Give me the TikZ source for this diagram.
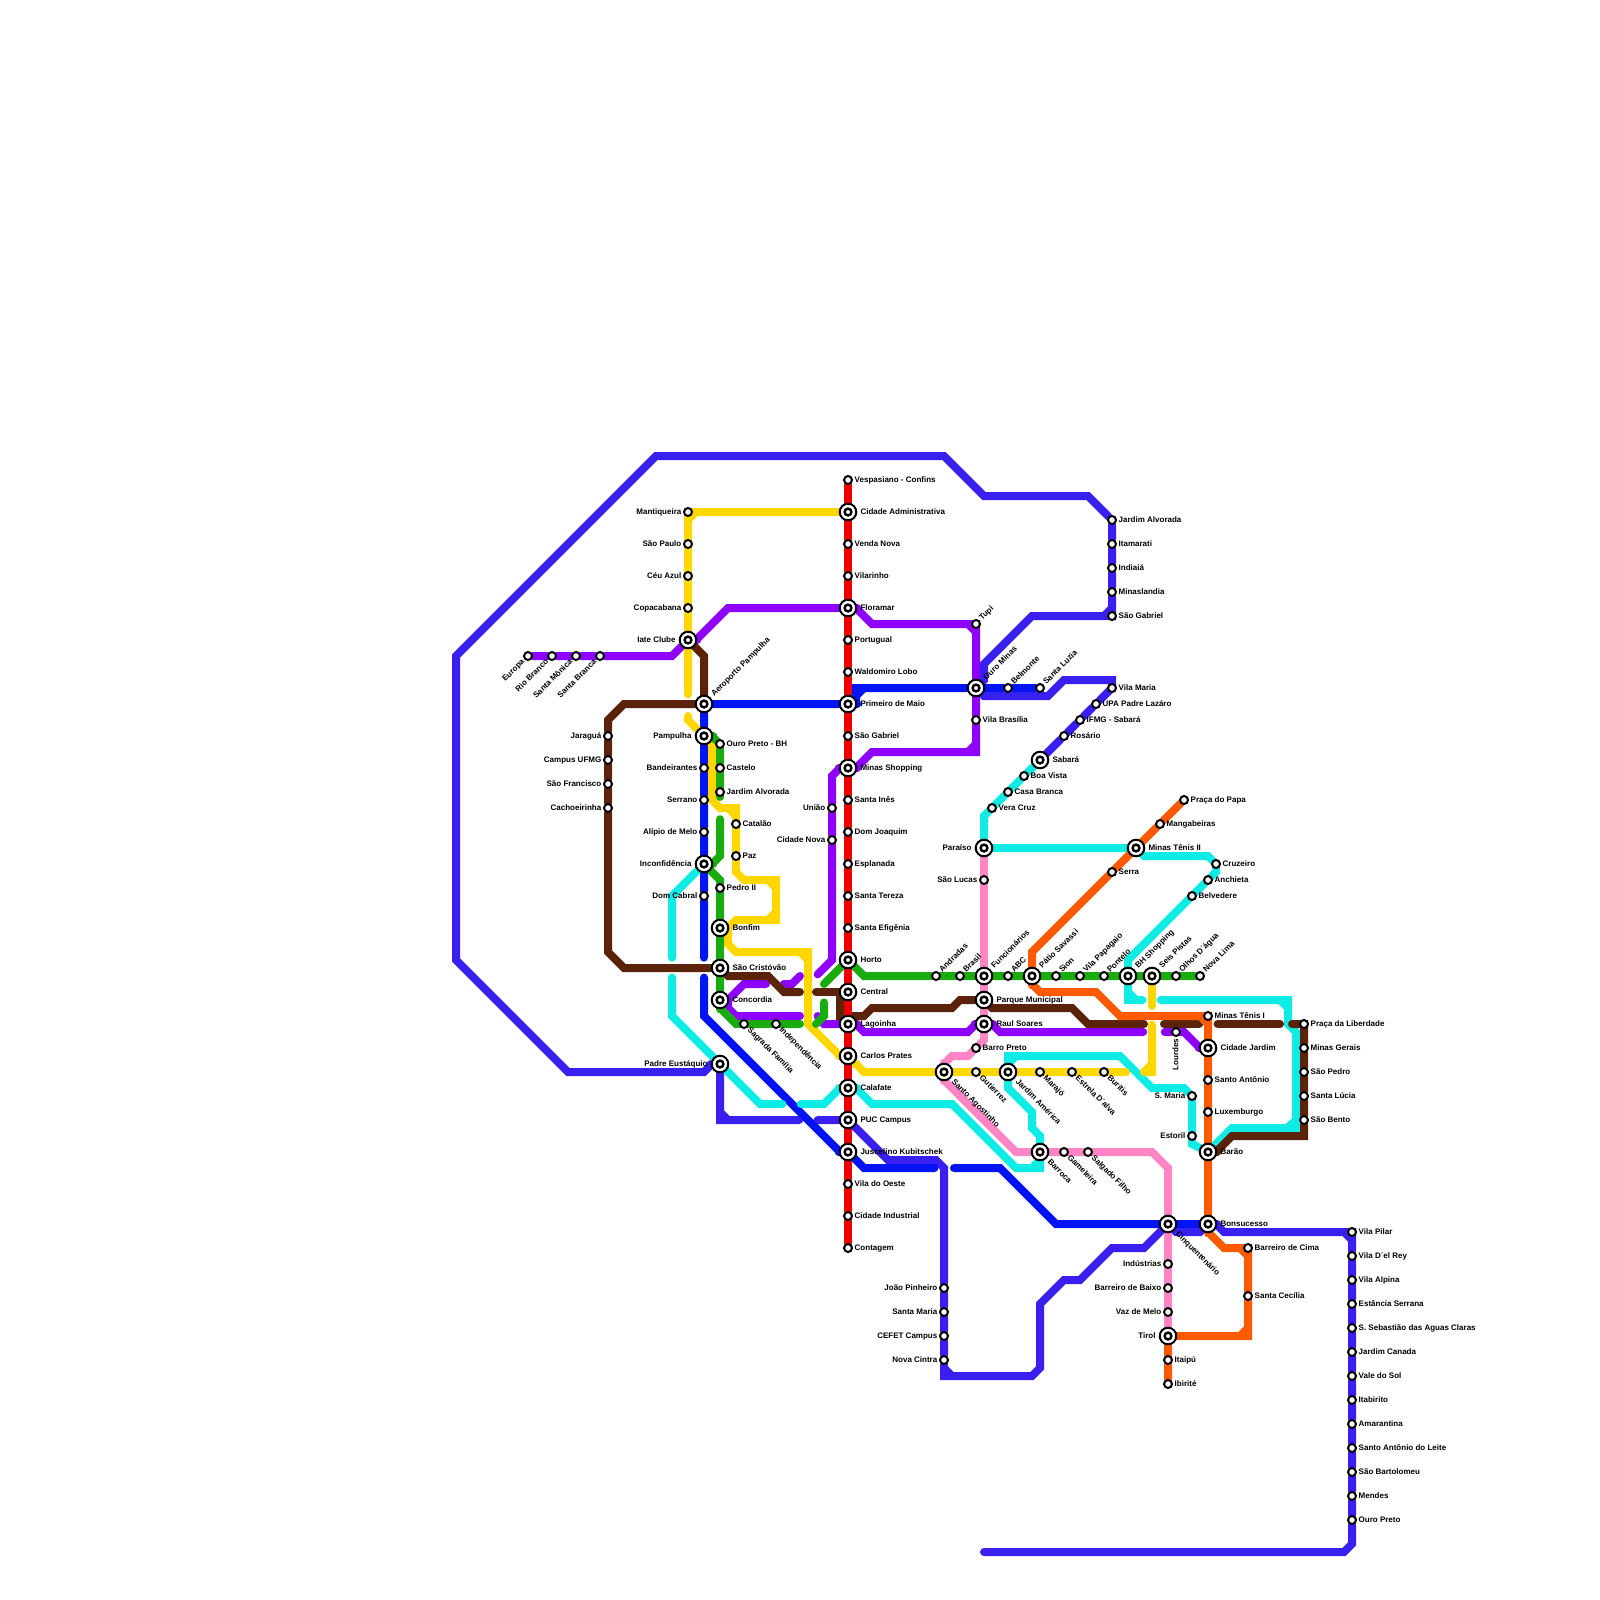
\documentclass[tikz,border=0pt]{standalone}
\usepackage{fontspec}
\setmainfont{Liberation Sans}
\pgfdeclarelayer{lines}
\pgfsetlayers{lines,main}
\definecolor{cred}{RGB}{240,0,0}
\definecolor{cindigo}{RGB}{58,32,240}
\definecolor{cblue}{RGB}{0,20,245}
\definecolor{cpurple}{RGB}{142,0,255}
\definecolor{cyellow}{RGB}{255,214,0}
\definecolor{cbrown}{RGB}{90,35,10}
\definecolor{cgreen}{RGB}{25,172,15}
\definecolor{ccyan}{RGB}{15,236,230}
\definecolor{cpink}{RGB}{255,133,196}
\definecolor{corange}{RGB}{255,90,0}
\tikzset{
  metro/.style={line width=8pt,line cap=round},
  tag/.style={font=\bfseries\fontsize{8}{8}\selectfont,inner ysep=0pt,inner xsep=1.5pt,text height=6pt,text depth=1.5pt},
  taghub/.style={tag,inner xsep=3pt},
  stn/.style={circle,draw=black,fill=white,line width=2pt,minimum size=8pt,inner sep=0pt},
  hub/.style={circle,draw=black,fill=white,line width=2pt,minimum size=16.6pt,inner sep=0pt,
    path picture={\draw[black,line width=2.4pt] (path picture bounding box.center) circle (3.4pt);}},
  lblR/.style={label={[tag,anchor=west]0:#1}},
  lblL/.style={label={[tag,anchor=east]180:#1}},
  lblUp/.style={label={[tag,rotate=45,anchor=west]45:#1}},
  lblDn/.style={label={[tag,rotate=-45,anchor=west]-45:#1}},
  lblDL/.style={label={[tag,rotate=45,anchor=east]225:#1}},
  lblV/.style={label={[tag,rotate=90,anchor=east]270:#1}},
  hubR/.style={label={[taghub,anchor=west]0:#1}},
  hubL/.style={label={[taghub,anchor=east]180:#1}},
  hubUp/.style={label={[taghub,rotate=45,anchor=west]45:#1}},
  hubDn/.style={label={[taghub,rotate=-45,anchor=west]-45:#1}}
}
\begin{document}
\begin{tikzpicture}[x=8pt,y=-8pt]
  \useasboundingbox (0,0) rectangle (200,200);
  \node[stn,lblR=Vespasiano - Confins] (vespasiano) at (106,60) {};
  \node[hub,hubR=Cidade Administrativa] (cidadeadm) at (106,64) {};
  \node[stn,lblR=Venda Nova] (vendanova) at (106,68) {};
  \node[stn,lblR=Vilarinho] (vilarinho) at (106,72) {};
  \node[hub,hubR=Floramar] (floramar) at (106,76) {};
  \node[stn,lblR=Portugual] (portugual) at (106,80) {};
  \node[stn,lblR=Waldomiro Lobo] (waldomiro) at (106,84) {};
  \node[hub,hubR=Primeiro de Maio] (primeiromaio) at (106,88) {};
  \node[stn,lblR=São Gabriel] (saogabrielb) at (106,92) {};
  \node[hub,hubR=Minas Shopping] (minasshopping) at (106,96) {};
  \node[stn,lblR=Santa Inês] (santaines) at (106,100) {};
  \node[stn,lblR=Dom Joaquim] (domjoaquim) at (106,104) {};
  \node[stn,lblR=Esplanada] (esplanada) at (106,108) {};
  \node[stn,lblR=Santa Tereza] (santatereza) at (106,112) {};
  \node[stn,lblR=Santa Efigênia] (santaefigenia) at (106,116) {};
  \node[hub,hubR=Horto] (horto) at (106,120) {};
  \node[hub,hubR=Central] (central) at (106,124) {};
  \node[hub,hubR=Lagoinha] (lagoinha) at (106,128) {};
  \node[hub,hubR=Carlos Prates] (carlosprates) at (106,132) {};
  \node[hub,hubR=Calafate] (calafate) at (106,136) {};
  \node[hub,hubR=PUC Campus] (puccampus) at (106,140) {};
  \node[hub,hubR=Juscelino Kubitschek] (juscelino) at (106,144) {};
  \node[stn,lblR=Vila do Oeste] (vilaoeste) at (106,148) {};
  \node[stn,lblR=Cidade Industrial] (cidadeind) at (106,152) {};
  \node[stn,lblR=Contagem] (contagem) at (106,156) {};

  \node[stn,lblL=Mantiqueira] (mantiqueira) at (86,64) {};
  \node[stn,lblL=São Paulo] (saopaulo) at (86,68) {};
  \node[stn,lblL=Céu Azul] (ceuazul) at (86,72) {};
  \node[stn,lblL=Copacabana] (copacabana) at (86,76) {};
  \node[hub,hubL=Iate Clube] (iateclube) at (86,80) {};
  \node[stn,lblDL=Europa] (europa) at (66,82) {};
  \node[stn,lblDL=Rio Branco] (riobranco) at (69,82) {};
  \node[stn,lblDL=Santa Mônica] (santamonica) at (72,82) {};
  \node[stn,lblDL=Santa Branca] (santabranca) at (75,82) {};
  \node[hub,hubUp=Aeroporto Pampulha] (aeroporto) at (88,88) {};
  \node[hub,hubL=Pampulha] (pampulha) at (88,92) {};
  \node[stn,lblL=Bandeirantes] (bandeirantes) at (88,96) {};
  \node[stn,lblL=Serrano] (serrano) at (88,100) {};
  \node[stn,lblL=Alípio de Melo] (alipio) at (88,104) {};
  \node[hub,hubL=Inconfidência] (inconfidencia) at (88,108) {};
  \node[stn,lblL=Dom Cabral] (domcabral) at (88,112) {};
  \node[stn,lblR=Ouro Preto - BH] (ouropretobh) at (90,93) {};
  \node[stn,lblR=Castelo] (castelo) at (90,96) {};
  \node[stn,lblR=Jardim Alvorada] (jardimalvoradab) at (90,99) {};
  \node[stn,lblR=Catalão] (catalao) at (92,103) {};
  \node[stn,lblR=Paz] (paz) at (92,107) {};
  \node[stn,lblL=Jaraguá] (jaragua) at (76,92) {};
  \node[stn,lblL=Campus UFMG] (campusufmg) at (76,95) {};
  \node[stn,lblL=São Francisco] (saofrancisco) at (76,98) {};
  \node[stn,lblL=Cachoeirinha] (cachoeirinha) at (76,101) {};
  \node[stn,lblL=União] (uniao) at (104,101) {};
  \node[stn,lblL=Cidade Nova] (cidadenova) at (104,105) {};
  \node[stn,lblR=Pedro II] (pedroii) at (90,111) {};
  \node[hub,hubR=Bonfim] (bonfim) at (90,116) {};
  \node[hub,hubR=São Cristóvão] (saocristovao) at (90,121) {};
  \node[hub,hubR=Concordia] (concordia) at (90,125) {};
  \node[stn,lblDn=Sagrada Família] (sagrada) at (93,128) {};
  \node[stn,lblDn=Independência] (independencia) at (97,128) {};
  \node[hub,hubL=Padre Eustáquio] (padre) at (90,133) {};

  \node[stn,lblUp=Tupi] (tupi) at (122,78) {};
  \node[hub,hubUp=Ouro Minas] (ourominas) at (122,86) {};
  \node[stn,lblUp=Belmonte] (belmonte) at (126,86) {};
  \node[stn,lblUp=Santa Luzia] (santaluzia) at (130,86) {};
  \node[stn,lblR=Vila Brasília] (vilabrasilia) at (122,90) {};
  \node[stn,lblR=Jardim Alvorada] (jardimalvorada) at (139,65) {};
  \node[stn,lblR=Itamarati] (itamarati) at (139,68) {};
  \node[stn,lblR=Indiaiá] (indiaia) at (139,71) {};
  \node[stn,lblR=Minaslandia] (minaslandia) at (139,74) {};
  \node[stn,lblR=São Gabriel] (saogabriel) at (139,77) {};
  \node[stn,lblR=Vila Maria] (vilamaria) at (139,86) {};
  \node[stn,lblR=UPA Padre Lazáro] (upa) at (137,88) {};
  \node[stn,lblR=IFMG - Sabará] (ifmg) at (135,90) {};
  \node[stn,lblR=Rosário] (rosario) at (133,92) {};
  \node[hub,hubR=Sabará] (sabara) at (130,95) {};
  \node[stn,lblR=Boa Vista] (boavista) at (128,97) {};
  \node[stn,lblR=Casa Branca] (casabranca) at (126,99) {};
  \node[stn,lblR=Vera Cruz] (veracruz) at (124,101) {};
  \node[hub,hubL=Paraíso] (paraiso) at (123,106) {};
  \node[stn,lblL=São Lucas] (saolucas) at (123,110) {};
  \node[hub,hubR=Minas Tênis II] (minastenisii) at (142,106) {};
  \node[stn,lblR=Praça do Papa] (pracapapa) at (148,100) {};
  \node[stn,lblR=Mangabeiras] (mangabeiras) at (145,103) {};
  \node[stn,lblR=Serra] (serra) at (139,109) {};
  \node[stn,lblR=Cruzeiro] (cruzeiro) at (152,108) {};
  \node[stn,lblR=Anchieta] (anchieta) at (151,110) {};
  \node[stn,lblR=Belvedere] (belvedere) at (149,112) {};

  \node[stn,lblUp=Andradas] (andradas) at (117,122) {};
  \node[stn,lblUp=Brasil] (brasil) at (120,122) {};
  \node[hub,hubUp=Funcionários] (funcionarios) at (123,122) {};
  \node[stn,lblUp=ABC] (abc) at (126,122) {};
  \node[hub,hubUp=Pátio Savassi] (patiosavassi) at (129,122) {};
  \node[stn,lblUp=Sion] (sion) at (132,122) {};
  \node[stn,lblUp=Vila Papagaio] (vilapapagaio) at (135,122) {};
  \node[stn,lblUp=Pontelo] (pontelo) at (138,122) {};
  \node[hub,hubUp=BH Shopping] (bhshopping) at (141,122) {};
  \node[hub,hubUp=Seis Pistas] (seispistas) at (144,122) {};
  \node[stn,lblUp=Olhos D´água] (olhosdagua) at (147,122) {};
  \node[stn,lblUp=Nova Lima] (novalima) at (150,122) {};
  \node[hub,hubR=Parque Municipal] (parquemunicipal) at (123,125) {};
  \node[hub,hubR=Raul Soares] (raulsoares) at (123,128) {};
  \node[stn,lblR=Barro Preto] (barropreto) at (122,131) {};
  \node[stn,lblDn=Gutierrez] (gutierrez) at (122,134) {};
  \node[hub,hubDn=Santo Agostinho] (santoagostinho) at (118,134) {};
  \node[hub,hubDn=Jardim América] (jardimamerica) at (126,134) {};
  \node[stn,lblDn=Marajó] (marajo) at (130,134) {};
  \node[stn,lblDn=Estrela D´alva] (estreladalva) at (134,134) {};
  \node[stn,lblDn=Buritis] (buritis) at (138,134) {};
  \node[hub,hubDn=Barroca] (barroca) at (130,144) {};
  \node[stn,lblDn=Gameleira] (gameleira) at (133,144) {};
  \node[stn,lblDn=Salgado Filho] (salgadofilho) at (136,144) {};

  \node[stn,lblR=Minas Tênis I] (minastenisi) at (151,127) {};
  \node[hub,hubR=Cidade Jardim] (cidadejardim) at (151,131) {};
  \node[stn,lblR=Santo Antônio] (santoantonio) at (151,135) {};
  \node[stn,lblR=Luxemburgo] (luxemburgo) at (151,139) {};
  \node[hub,hubR=Barão] (barao) at (151,144) {};
  \node[stn,lblV=Lourdes] (lourdes) at (147,129) {};
  \node[stn,lblL=S. Maria] (smaria) at (149,137) {};
  \node[stn,lblL=Estoril] (estoril) at (149,142) {};
  \node[stn,lblR=Praça da Liberdade] (pracaliberdade) at (163,128) {};
  \node[stn,lblR=Minas Gerais] (minasgerais) at (163,131) {};
  \node[stn,lblR=São Pedro] (saopedro) at (163,134) {};
  \node[stn,lblR=Santa Lúcia] (santalucia) at (163,137) {};
  \node[stn,lblR=São Bento] (saobento) at (163,140) {};

  \node[stn,lblL=João Pinheiro] (joaopinheiro) at (118,161) {};
  \node[stn,lblL=Santa Maria] (santamaria) at (118,164) {};
  \node[stn,lblL=CEFET Campus] (cefet) at (118,167) {};
  \node[stn,lblL=Nova Cintra] (novacintra) at (118,170) {};
  \node[hub,hubDn=Cinquentenário] (cinquentenario) at (146,153) {};
  \node[hub,hubR=Bonsucesso] (bonsucesso) at (151,153) {};
  \node[stn,lblL=Indústrias] (industrias) at (146,158) {};
  \node[stn,lblL=Barreiro de Baixo] (barreirobaixo) at (146,161) {};
  \node[stn,lblL=Vaz de Melo] (vazmelo) at (146,164) {};
  \node[hub,hubL=Tirol] (tirol) at (146,167) {};
  \node[stn,lblR=Itaipú] (itaipu) at (146,170) {};
  \node[stn,lblR=Ibirité] (ibirite) at (146,173) {};
  \node[stn,lblR=Barreiro de Cima] (barreirocima) at (156,156) {};
  \node[stn,lblR=Santa Cecília] (santacecilia) at (156,162) {};
  \node[stn,lblR=Vila Pilar] (vilapilar) at (169,154) {};
  \node[stn,lblR=Vila D´el Rey] (viladelrey) at (169,157) {};
  \node[stn,lblR=Vila Alpina] (vilaalpina) at (169,160) {};
  \node[stn,lblR=Estância Serrana] (estancia) at (169,163) {};
  \node[stn,lblR=S. Sebastião das Aguas Claras] (ssebastiao) at (169,166) {};
  \node[stn,lblR=Jardim Canada] (jardimcanada) at (169,169) {};
  \node[stn,lblR=Vale do Sol] (valesol) at (169,172) {};
  \node[stn,lblR=Itabirito] (itabirito) at (169,175) {};
  \node[stn,lblR=Amarantina] (amarantina) at (169,178) {};
  \node[stn,lblR=Santo Antônio do Leite] (santoantonioleite) at (169,181) {};
  \node[stn,lblR=São Bartolomeu] (saobartolomeu) at (169,184) {};
  \node[stn,lblR=Mendes] (mendes) at (169,187) {};
  \node[stn,lblR=Ouro Preto] (ouropreto) at (169,190) {};

  \coordinate (indA) at (123,194);
  \coordinate (indB) at (102.2,140);
  \coordinate (indC) at (99.9,140);
  \coordinate (bluA) at (88,119.7);
  \coordinate (bluB) at (88,122.2);
  \coordinate (bluC) at (116.8,146);
  \coordinate (bluD) at (119.25,146);
  \coordinate (purA) at (102.2,121.8);
  \coordinate (purB) at (100,122);
  \coordinate (purC) at (98,123);
  \coordinate (purD) at (95.75,123);
  \coordinate (purE) at (100,127);
  \coordinate (purF) at (102.2,127);
  \coordinate (purG) at (142.9,129);
  \coordinate (purH) at (145.6,129);
  \coordinate (cyaA) at (84,119.7);
  \coordinate (cyaB) at (84,122.2);
  \coordinate (cyaC) at (97.8,138);
  \coordinate (cyaD) at (100.1,138);
  \coordinate (cyaE) at (145.1,125);
  \coordinate (cyaF) at (142.8,125);
  \coordinate (yelA) at (86,86.8);
  \coordinate (yelB) at (86,89.5);
  \coordinate (yelC) at (140.75,134);
  \coordinate (yelD) at (143,134);
  \coordinate (yelE) at (144,128.1);
  \coordinate (yelF) at (144,125.75);
  \coordinate (broA) at (100,124);
  \coordinate (broB) at (102,124);
  \coordinate (broC) at (143,128);
  \coordinate (broD) at (145.5,128);
  \coordinate (broE) at (149.9,128);
  \coordinate (broF) at (152.2,128);
  \coordinate (broG) at (160,128);
  \coordinate (broH) at (161.5,128);
  \coordinate (greA) at (90,99.5);
  \coordinate (greB) at (90,102.4);
  \coordinate (greC) at (100,128);
  \coordinate (greD) at (102,128);
  \coordinate (greE) at (103,125.3);
  \coordinate (greF) at (103,123);

  \begin{pgfonlayer}{lines}
    \draw[metro,cindigo] (indA) -- (168,194) -- (169,193) -- (ouropreto) -- (mendes) -- (saobartolomeu) -- (santoantonioleite) -- (amarantina) -- (itabirito) -- (valesol) -- (jardimcanada) -- (ssebastiao) -- (estancia) -- (vilaalpina) -- (viladelrey) -- (vilapilar.center) -- (153,154) -- (152,153) -- (bonsucesso) -- (150,154) -- (147,154) -- (cinquentenario) -- (143,156) -- (139,156) -- (135,160) -- (133,160) -- (130,163) -- (130,171) -- (129,172) -- (118,172) -- (novacintra) -- (cefet) -- (santamaria) -- (joaopinheiro) -- (118,146) -- (117,145) -- (111,145) -- (puccampus) -- (indB)
      (168,154) -- (169,155) (118,171) -- (119,172);
    \draw[metro,cindigo] (indC) -- (90,140) -- (padre) -- (89,133) -- (88,134) -- (71,134) -- (57,120) -- (57,82) -- (82,57) -- (118,57) -- (123,62) -- (136,62) -- (jardimalvorada) -- (itamarati) -- (indiaia) -- (minaslandia) -- (saogabriel.center) -- (129,77) -- (123,83) -- (123,85) -- (ourominas) -- (123,87) -- (131,87) -- (133,85) -- (139,85) -- (vilamaria.center) -- (upa) -- (ifmg) -- (rosario) -- (sabara)
      (90,139) -- (91,140) (138,77) -- (139,76);
    \draw[metro,cblue] (santaluzia) -- (belmonte) -- (ourominas) -- (107,86) -- (107,88) -- (primeiromaio) -- (aeroporto) -- (pampulha) -- (bandeirantes) -- (serrano) -- (alipio) -- (inconfidencia) -- (domcabral) -- (bluA)
      (107,87) -- (108,86);
    \draw[metro,cblue] (bluB) -- (88,127) -- (105,144) -- (juscelino) -- (108,146) -- (bluC);
    \draw[metro,cblue] (bluD) -- (125,146) -- (132,153) -- (cinquentenario) -- (bonsucesso);
    \draw[metro,cpurple] (europa) -- (riobranco) -- (santamonica) -- (santabranca) -- (84,82) -- (iateclube) -- (87,80) -- (91,76) -- (floramar) -- (107,76) -- (109,78) -- (tupi.center) -- (ourominas) -- (vilabrasilia) -- (122,94) -- (109,94) -- (107,96) -- (minasshopping) -- (105,96) -- (104,97) -- (uniao) -- (cidadenova) -- (104,120) -- (purA)
      (121,78) -- (122,79) (121,94) -- (122,93);
    \draw[metro,cpurple] (purB) -- (99,123) -- (purC);
    \draw[metro,cpurple] (purD) -- (93,123) -- (91,125) -- (91,126) -- (92,127) -- (purE);
    \draw[metro,cpurple] (purF) -- (103,128) -- (lagoinha) -- (107,128) -- (108,129) -- (121,129) -- (122,128) -- (raulsoares) -- (124,128) -- (125,129) -- (purG);
    \draw[metro,cpurple] (purH) -- (lourdes) -- (148,129) -- (150,131) -- (cidadejardim);
    \draw[metro,ccyan] (inconfidencia) -- (84,112) -- (cyaA);
    \draw[metro,ccyan] (cyaB) -- (84,127) -- (padre) -- (95,138) -- (cyaC);
    \draw[metro,ccyan] (cyaD) -- (103,138) -- (105,136) -- (calafate) -- (107,136) -- (109,138) -- (119,138) -- (127,146) -- (130,146) -- (barroca) -- (130,142) -- (129,141) -- (129,139) -- (126,136) -- (jardimamerica) -- (126,132) -- (140,132) -- (144,136) -- (148,136) -- (smaria) -- (estoril) -- (149,143) -- (barao) -- (154,141) -- (162,141) -- (162,129) -- (161,128) -- (161,125) -- (cyaE)
      (126,133) -- (127,132) (129,146) -- (130,145) (161,140.9) -- (162,140) (160,125) -- (161,126);
    \draw[metro,ccyan] (cyaF) -- (141,125) -- (bhshopping) -- (141,120) -- (belvedere) -- (anchieta) -- (152,109) -- (cruzeiro) -- (151,107) -- (143,107) -- (minastenisii) -- (paraiso) -- (123,102) -- (veracruz) -- (casabranca) -- (boavista) -- (sabara)
      (141,124) -- (142,125);
    \draw[metro,cpink] (paraiso) -- (saolucas) -- (funcionarios) -- (parquemunicipal) -- (raulsoares) -- (123,130) -- (barropreto) -- (121,132) -- (119,132) -- (118,133) -- (santoagostinho) -- (118,135) -- (127,144) -- (barroca) -- (gameleira) -- (salgadofilho) -- (144,144) -- (146,146) -- (cinquentenario) -- (industrias) -- (barreirobaixo) -- (vazmelo) -- (tirol);
    \draw[metro,cyellow] (cidadeadm) -- (mantiqueira.center) -- (saopaulo) -- (ceuazul) -- (copacabana) -- (iateclube) -- (yelA)
      (86,65) -- (87,64);
    \draw[metro,cyellow] (yelB) -- (86,90) -- (pampulha) -- (89,93) -- (89,100) -- (90,101) -- (92,101) -- (catalao) -- (paz) -- (92,109) -- (93,110) -- (97,110) -- (97,115) -- (92,115) -- (91,116) -- (91,118) -- (92,119) -- (101,119) -- (101,128) -- (105,132) -- (carlosprates) -- (108,134) -- (santoagostinho) -- (gutierrez) -- (jardimamerica) -- (marajo) -- (estreladalva) -- (buritis) -- (yelC)
      (91,101) -- (92,102) (96,110) -- (97,111) (97,114) -- (96,115) (100,119) -- (101,120);
    \draw[metro,cyellow] (yelD) -- (144,134) -- (yelE) (144,133) -- (143,134);
    \draw[metro,cyellow] (yelF) -- (seispistas);
    \draw[metro,cbrown] (iateclube) -- (88,82) -- (aeroporto) -- (78,88) -- (76,90) -- (jaragua) -- (campusufmg) -- (saofrancisco) -- (cachoeirinha) -- (76,119) -- (78,121) -- (saocristovao) -- (91,122) -- (96,122) -- (98,124) -- (broA);
    \draw[metro,cbrown] (broB) -- (central);
    \draw[metro,cbrown] (central) -- (105,124) -- (105,127) -- (108,127) -- (109,126) -- (119,126) -- (120,125) -- (parquemunicipal) -- (124,126) -- (134,126) -- (136,128) -- (broC);
    \draw[metro,cbrown] (broD) -- (broE);
    \draw[metro,cbrown] (broF) -- (broG);
    \draw[metro,cbrown] (broH) -- (pracaliberdade.center) -- (minasgerais) -- (saopedro) -- (santalucia) -- (saobento) -- (163,142) -- (154,142) -- (152,144) -- (barao);
    \draw[metro,cgreen] (pampulha) -- (89,92) -- (ouropretobh) -- (castelo) -- (jardimalvoradab) -- (greA);
    \draw[metro,cgreen] (greB) -- (90,107) -- (89,108) -- (inconfidencia) -- (89,109) -- (90,110) -- (pedroii) -- (bonfim) -- (saocristovao) -- (concordia) -- (90,126) -- (92,128) -- (sagrada) -- (independencia) -- (greC);
    \draw[metro,cgreen] (greD) -- (103,127) -- (greE);
    \draw[metro,cgreen] (greF) -- (horto) -- (108,122) -- (andradas) -- (brasil) -- (funcionarios) -- (abc) -- (patiosavassi) -- (sion) -- (vilapapagaio) -- (pontelo) -- (bhshopping) -- (seispistas) -- (olhosdagua) -- (novalima);
    \draw[metro,corange] (pracapapa) -- (mangabeiras) -- (minastenisii) -- (serra) -- (129,119) -- (patiosavassi) -- (129,123) -- (130,124) -- (137,124) -- (140,127) -- (minastenisi.center) -- (cidadejardim) -- (santoantonio) -- (luxemburgo) -- (barao) -- (bonsucesso) -- (151,154) -- (153,156) -- (barreirocima.center) -- (santacecilia) -- (156,167) -- (tirol) -- (itaipu) -- (ibirite)
      (150,127) -- (151,128) (155,156) -- (156,157) (155,167) -- (156,166);
    \draw[metro,cred] (vespasiano) -- (cidadeadm) -- (vendanova) -- (vilarinho) -- (floramar) -- (portugual) -- (waldomiro) -- (primeiromaio) -- (saogabrielb) -- (minasshopping) -- (santaines) -- (domjoaquim) -- (esplanada) -- (santatereza) -- (santaefigenia) -- (horto) -- (central) -- (lagoinha) -- (carlosprates) -- (calafate) -- (puccampus) -- (juscelino) -- (vilaoeste) -- (cidadeind) -- (contagem);
  \end{pgfonlayer}
\end{tikzpicture}
\end{document}
